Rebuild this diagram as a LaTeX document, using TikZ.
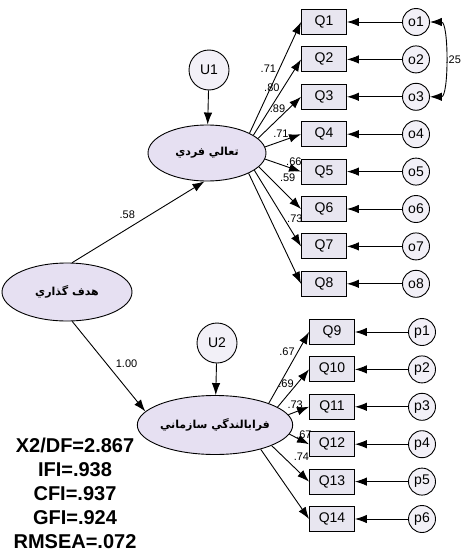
\documentclass[tikz,border=0pt]{standalone}
\usepackage{fontspec}
\setmainfont{Liberation Sans}
\newfontfamily\arabicfont[Script=Arabic]{DejaVu Sans}
\TeXXeTstate=1
\usetikzlibrary{shapes.geometric,arrows.meta,positioning}
\definecolor{lav}{RGB}{230,224,242}
\definecolor{boxfill}{RGB}{232,230,240}
\definecolor{errfill}{RGB}{242,240,247}

\begin{document}
\begin{tikzpicture}[
        x=1pt, y=-1pt,
        >={Latex[length=12pt,width=8.5pt]},
        line width=0.9pt,
        latent/.style={draw, ellipse, fill=lav, inner sep=0pt, font=\arabicfont\bfseries\fontsize{11}{13}\selectfont},
        obs/.style={draw, fill=boxfill, minimum width=45pt, minimum height=25pt, inner sep=0pt, font=\fontsize{14}{16}\selectfont},
        err/.style={draw, circle, fill=errfill, minimum size=27pt, inner sep=0pt, font=\fontsize{14}{16}\selectfont},
        dist/.style={draw, circle, fill=errfill, minimum size=40pt, inner sep=0pt, font=\fontsize{14}{16}\selectfont},
        coef/.style={inner sep=3pt, font=\fontsize{11}{13}\selectfont}
    ]
        \useasboundingbox (0,0) rectangle (464,554);

        % latent variables
        \node[latent, minimum width=118pt, minimum height=56pt] (ind) at (207,153) {\beginR تعالي فردي\endR};
        \node[latent, minimum width=130pt, minimum height=58pt] (had) at (67,292) {\beginR هدف گذاري\endR};
        \node[latent, minimum width=114pt, minimum height=59pt] (org) at (215,425) {\beginR فرابالندگي سازماني\endR};

        \node[dist] (u1) at (209,70) {U1};
        \node[dist] (u2) at (217,343) {U2};
        \draw[->] (u1) -- (ind);
        \draw[->] (u2) -- (org);

        \draw[->] (had.80) -- node[coef, pos=0.5, anchor=south east] {.58} (ind.265);
        \draw[->] (had.-80) -- node[coef, pos=0.55, anchor=south west] {1.00} (org.169);

        % first factor
        \foreach \i/\a/\lab/\p/\anc in {1/25/.71/0.58/east, 2/21/.80/0.62/east, 3/16/.89/0.71/east, 4/6/.71/0.44/south, 5/-6/.66/0.8/south, 6/-15/.59/0.42/south west, 7/-20/.73/0.63/west, 8/-26//0.5/east}{
            \node[obs] (q\i) at (324,{22+37.4*(\i-1)}) {Q\i};
            \node[err] (o\i) at (416,{22+37.4*(\i-1)}) {o\i};
            \draw[->] (o\i) -- (q\i);
            \draw[->] (ind.\a) -- node[coef, pos=\p, anchor=\anc] {\lab} (q\i.west);
        }

        \draw[<->] (o1.east) to[out=0, in=0, looseness=0.65] node[coef, inner sep=1pt, anchor=west] {.25} (o3.east);

        % second factor
        \foreach \i/\j/\a/\lab/\p/\anc in {9/1/22/.67/0.73/east, 10/2/16/.69/0.62/east, 11/3/8/.73/0.33/south, 12/4/-7/.67/0.74/south, 13/5/-20/.74/0.5/south west, 14/6/-28//0.5/east}{
            \node[obs] (q\i) at (332,{332+37.4*(\i-9)}) {Q\i};
            \node[err] (p\j) at (422,{332+37.4*(\i-9)}) {p\j};
            \draw[->] (p\j) -- (q\i);
            \draw[->] (org.\a) -- node[coef, pos=\p, anchor=\anc] {\lab} (q\i.west);
        }

        % fit indices
        \node[align=center, font=\bfseries\fontsize{20}{24}\selectfont] (fitidx) at (75,493) {X2/DF=2.867\\IFI=.938\\CFI=.937\\GFI=.924\\RMSEA=.072};

    \end{tikzpicture}
\end{document}
